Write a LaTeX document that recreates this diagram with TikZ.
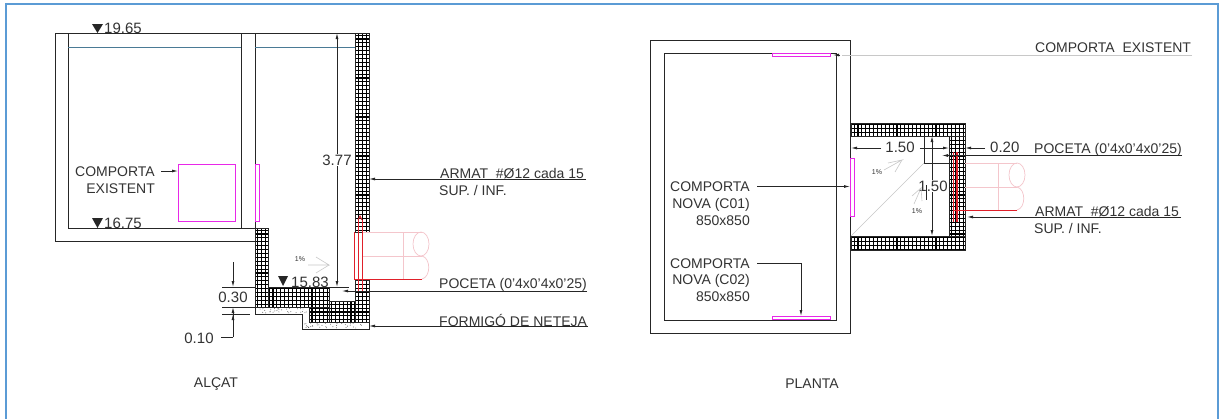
\documentclass[tikz,border=0pt]{standalone}
\usepackage{fontspec}
\setmainfont{Liberation Sans}
\usetikzlibrary{arrows.meta}
\definecolor{txt}{HTML}{333333}
\definecolor{frameblue}{HTML}{5B9BD5}
\definecolor{mag}{HTML}{E828E8}
\definecolor{pinkish}{HTML}{F4C6CC}
\definecolor{redp}{HTML}{E0202A}
\definecolor{hair}{HTML}{C8C8C8}
\definecolor{waterl}{HTML}{4A7A95}
\newcommand{\fs}[1]{\fontsize{#1}{#1}\selectfont}
\newcommand{\gridfill}[4]{%
  \pgfmathtruncatemacro{\ia}{floor(#1/3.9)}%
  \pgfmathtruncatemacro{\ib}{ceil(#3/3.9)}%
  \pgfmathtruncatemacro{\ja}{floor(#2/3.9)}%
  \pgfmathtruncatemacro{\jb}{ceil(#4/3.9)}%
  \begin{scope}
    \clip (#1,#2) rectangle (#3,#4);
    \draw[gridline] \foreach \i in {\ia,...,\ib}{ ({\i*3.9},#2) -- ({\i*3.9},#4) };
    \draw[gridline] \foreach \j in {\ja,...,\jb}{ (#1,{\j*3.9}) -- (#3,{\j*3.9}) };
  \end{scope}
  \draw[wall] (#1,#2) rectangle (#3,#4);}
\tikzset{
  wall/.style={draw=black!85,line width=0.9pt},
  gridline/.style={black,line width=1.15pt},
  gate/.style={draw=mag,line width=1.3pt},
  lead/.style={draw=black!85,line width=0.8pt,-{Latex[length=6pt,width=3pt]}},
  plain/.style={draw=black!85,line width=0.8pt},
  dimb/.style={draw=black!85,line width=0.8pt,{Latex[length=6pt,width=3pt]}-{Latex[length=6pt,width=3pt]}},
  pink/.style={draw=pinkish,line width=0.7pt},
  pipe/.style={draw=redp,line width=0.9pt},
  slope/.style={draw=hair,line width=0.6pt},
  lab/.style={text=txt,inner sep=0pt,font=\fs{14}},
  dimt/.style={text=txt,inner sep=0pt,font=\fs{15}},
  wdim/.style={dimt,fill=white,inner xsep=1.5pt,inner ysep=1pt},
  small/.style={text=txt,inner sep=0pt,font=\fs{7}},
  title/.style={text=txt,inner sep=0pt,font=\fs{14}},
  level/.style={fill=black!85,draw=none}
}
\begin{document}
\begin{tikzpicture}[x=1pt,y=-1pt]
\useasboundingbox (0,0) rectangle (1219,418);
\fill[white] (0,0) rectangle (1219,418);
\draw[frameblue,line width=2pt] (6,419) -- (6,4) -- (1218,4) -- (1218,419);

%% ---------- ALCAT ----------
\gridfill{355}{33}{369}{232}
\gridfill{355}{280}{369}{322}
\gridfill{255}{228}{268}{307}
\gridfill{268}{287}{329}{307}
\gridfill{329}{301}{355}{322}
\gridfill{309}{307}{329}{322}
% concrete blinding
\fill[white] (255,307) -- (309,307) -- (309,322) -- (369,322) -- (369,329) -- (302,329) -- (302,314) -- (255,314) -- cycle;
\draw[wall] (255,307) -- (255,314) -- (302,314) -- (302,329) -- (369,329) -- (369,322);
\draw[wall] (255,307) -- (309,307) -- (309,322) -- (369,322);
\pgfmathsetseed{7}
\foreach \k in {1,...,30}{\pgfmathsetmacro{\px}{257+rnd*50}\pgfmathsetmacro{\py}{308+rnd*5}\fill[black!70] (\px,\py) circle (0.45);}
\foreach \k in {1,...,35}{\pgfmathsetmacro{\px}{304+rnd*64}\pgfmathsetmacro{\py}{323+rnd*5}\fill[black!70] (\px,\py) circle (0.45);}
% tanks
\draw[wall] (355,33) -- (55,33) -- (55,241) -- (255,241);
\draw[wall] (68,33) -- (68,228) -- (255,228);
\draw[wall] (241,33) -- (241,228);
\draw[wall] (255,33) -- (255,228);
\draw[draw=waterl,line width=0.9pt] (68,47) -- (241,47);
\draw[draw=waterl,line width=0.9pt] (255,47) -- (355,47);
% gates
\node[gate,minimum width=56.5pt,minimum height=57pt,anchor=north west,inner sep=0pt] (gateA) at (178,164) {};
\node[gate,minimum width=3.5pt,minimum height=57pt,anchor=north west,inner sep=0pt] (gateB) at (255,164) {};
% pipe
\draw[pink] (363,232) -- (422,232);
\draw[pink] (363,256) -- (422,256);
\draw[pink] (403,232) -- (403,279);
\draw[pink] (421,244) ellipse (8 and 12);
\draw[pink] (422,256) .. controls (431,258) and (431,277) .. (422,279);
\draw[pipe] (354,232) -- (354,279) -- (422,279);
\draw[pipe] (358,220) -- (358,291);
\draw[pipe] (362,220) -- (362,291);
\draw[pipe] (358,220) -- (360,216) -- (362,220);
% levels
\fill[level] (92,24) -- (103,24) -- (97.5,33) -- cycle;
\node[dimt,anchor=base west] (l1) at (104,33) {19.65};
\fill[level] (92,218) -- (103,218) -- (97.5,228) -- cycle;
\node[dimt,anchor=base west] (l2) at (104,228) {16.75};
\fill[level] (278,276) -- (288,276) -- (283,286) -- cycle;
\node[dimt,anchor=base west] (l3) at (291,287) {15.83};
% 3.77
\coordinate (d377a) at (337,33);
\coordinate (d377b) at (337,287);
\draw[dimb] (d377a) -- (d377b);
\node[wdim] (d377) at (337,160) {3.77};
% sump edge
\draw[plain] (329,287) -- (349,287);
% comporta existent
\node[lab,anchor=base east] (ce1) at (155,176) {COMPORTA};
\node[lab,anchor=base east] (ce2) at (155,193.5) {EXISTENT};
\draw[lead] (161,171) -- (gateA.west |- 0,171);
% 1%
\node[small] (sl1) at (300,259) {1\%};
\draw[slope] (308,265) -- (329,265) -- (316,257);
\draw[slope] (329,265) -- (316,273);
% 0.30 / 0.10
\coordinate (e1) at (222,287);
\coordinate (e2) at (222,307);
\coordinate (e3) at (222,314);
\draw[plain] (e1) -- (255,287);
\draw[plain] (e2) -- (255,307);
\draw[plain] (e3) -- (250,314);
\node[dimt] (t030) at (233,297) {0.30};
\node[dimt] (t010) at (199,338) {0.10};
\draw[lead] (233,262) -- (233,287);
\draw[lead] (233,337) -- (233,314);
\draw[plain] (221,337) -- (233,337);
\draw[lead] (233,326) -- (233,307);
% leaders
\node[lab,anchor=base west] (ar1) at (440,178) {ARMAT\ \ \#Ø12 cada 15};
\node[lab,anchor=base west] (ar2) at (439,195) {SUP. / INF.};
\draw[lead] (586,179) -- (369,179);
\node[lab,anchor=base west] (po1) at (439,288) {POCETA (0'4x0'4x0'25)};
\draw[lead] (587,291) -- (342,291);
\node[lab,anchor=base west] (fo1) at (439,326) {FORMIGÓ DE NETEJA};
\fill[white] (436,326.5) rectangle (590,332);
\draw[lead] (588,326) -- (369,326);
\node[title] (t1) at (216,384) {ALÇAT};

%% ---------- PLANTA ----------
\gridfill{851}{123}{965}{136}
\gridfill{851}{236}{965}{250}
\gridfill{949}{136}{965}{236}
\draw[wall] (650,40) rectangle (850,333);
\draw[wall] (664,53) rectangle (836,320);
\node[gate,minimum width=58pt,minimum height=3pt,anchor=north west,inner sep=0pt] (gC) at (772,53) {};
\node[gate,minimum width=58pt,minimum height=3pt,anchor=north west,inner sep=0pt] (gD) at (772,316) {};
\node[gate,minimum width=3.5pt,minimum height=58pt,anchor=north west,inner sep=0pt] (gE) at (850,158) {};
% sump
\draw[wall] (924,136) -- (924,163) -- (949,163);
\draw[slope] (851,236) -- (924,163);
% pipe
\draw[pink] (965,163) -- (1017,163);
\draw[pink] (965,187) -- (1017,187);
\draw[pink] (998,163) -- (998,210);
\draw[pink] (1017,175) ellipse (8 and 12);
\draw[pink] (1017,187) .. controls (1026,189) and (1026,208) .. (1017,210);
\draw[pipe] (953,210) -- (1017,210);
\draw[draw=redp,line width=2.2pt] (957,152) -- (957,222);
\draw[pipe] (953,152) -- (953,222);
% dims
\node[dimt] (d150a) at (900,147) {1.50};
\coordinate (a1) at (851,148);
\coordinate (a2) at (949,148);
\draw[lead] (d150a.west) ++(-4,1) -- (a1);
\draw[lead] (d150a.east) ++(5,1) -- (a2);
\coordinate (v1) at (932,136);
\coordinate (v2) at (932,236);
\draw[dimb] (v1) -- (v2);
\node[wdim] (d150b) at (933,186) {1.50};
\draw[plain] (926,185) -- (926,200);
\node[dimt,anchor=base west] (d020) at (990,152.5) {0.20};
\draw[lead] (985,148) -- (965,148);
% 1% labels
\node[small] (sl2) at (877,172) {1\%};
\draw[slope] (884,170) -- (902,160) -- (888,163);
\draw[slope] (902,160) -- (895,172);
\node[small] (sl3) at (917,211) {1\%};
\draw[slope] (914,204) -- (921,188) -- (912,196);
\draw[slope] (921,188) -- (922,201);
% leaders
\node[lab,anchor=base west] (pce) at (1035,52) {COMPORTA\ \ EXISTENT};
\draw[draw=hair,line width=0.7pt] (1192,55) -- (842,55);
\draw[lead] (840,55) -- (833,55);
\node[lab,anchor=base west] (ppo) at (1034,153) {POCETA (0'4x0'4x0'25)};
\draw[lead] (1182,155.5) -- (942,155.5);
\node[lab,anchor=base west] (par1) at (1035,216) {ARMAT\ \ \#Ø12 cada 15};
\node[lab,anchor=base west] (par2) at (1034,233) {SUP. / INF.};
\draw[lead] (1181,217) -- (967,217);
\node[lab,anchor=base east] (c1a) at (750,191) {COMPORTA};
\node[lab,anchor=base east] (c1b) at (750,208) {NOVA (C01)};
\node[lab,anchor=base east] (c1c) at (750,225) {850x850};
\draw[lead] (757,186.5) -- (850,186.5);
\node[lab,anchor=base east] (c2a) at (750,268) {COMPORTA};
\node[lab,anchor=base east] (c2b) at (750,284) {NOVA (C02)};
\node[lab,anchor=base east] (c2c) at (750,301) {850x850};
\draw[lead] (757,263) -- (801,263) -- (801,316);
\node[title] (t2) at (812,384) {PLANTA};
\end{tikzpicture}
\end{document}
